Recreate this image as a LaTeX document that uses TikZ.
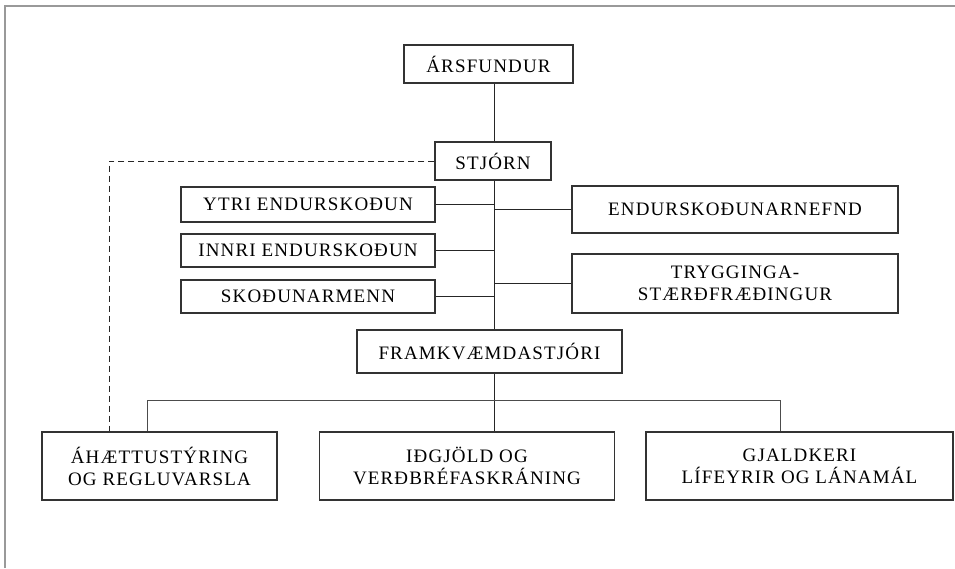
\documentclass[tikz,border=0pt]{standalone}
\usepackage{fontspec}
\setmainfont{Liberation Serif}[LetterSpace=6]
\usepackage{tikz}

\begin{document}
\begin{tikzpicture}[x=1pt,y=-1pt,
                    font=\fontsize{19}{22}\selectfont,
                    kassi/.style={draw=black!80, line width=1.3pt, inner sep=0pt, align=center},
                    lina/.style={draw=black!85, line width=0.9pt}]
                    \useasboundingbox (0,0) rectangle (955,568);
                    % Rammi
                    \draw [black!40, line width=2pt] (5,568) -- (5,6) -- (955,6);

                    % Kassar
                    \node [kassi, minimum width=169, minimum height=38] (ars) at (488.5,64) {ÁRSFUNDUR};
                    \node [kassi, minimum width=116, minimum height=38] (stjorn) at (493,161) {STJÓRN};
                    \node [kassi, minimum width=254, minimum height=35] (ytri) at (308,204.5) {YTRI ENDURSKOÐUN};
                    \node [kassi, minimum width=254, minimum height=33] (innri) at (308,250.5) {INNRI ENDURSKOÐUN};
                    \node [kassi, minimum width=254, minimum height=33] (skodun) at (308,296.5) {SKOÐUNARMENN};
                    \node [kassi, minimum width=326, minimum height=47] (nefnd) at (735,209.5) {ENDURSKOÐUNARNEFND};
                    \node [kassi, minimum width=326, minimum height=59] (trygg) at (735,283.5) {TRYGGINGA-\\STÆRÐFRÆÐINGUR};
                    \node [kassi, minimum width=265, minimum height=43] (framkv) at (489.5,351.5) {FRAMKVÆMDASTJÓRI};
                    \node [kassi, minimum width=235, minimum height=68] (ahaetta) at (159.5,466) {ÁHÆTTUSTÝRING\\OG REGLUVARSLA};
                    \node [kassi, minimum width=295, minimum height=68] (idgjold) at (467,466) {IÐGJÖLD OG\\VERÐBRÉFASKRÁNING};
                    \node [kassi, minimum width=307, minimum height=68] (gjaldkeri) at (799.5,466) {GJALDKERI\\LÍFEYRIR OG LÁNAMÁL};

                    % Línur
                    \coordinate (stofn) at (494,0);
                    \coordinate (vinstri) at (147,400);
                    \coordinate (haegri) at (780,400);
                    \coordinate (strik) at (109,0);
                    \draw [lina] (ars.south -| stofn) -- (stjorn.north -| stofn);
                    \draw [lina] (stjorn.south -| stofn) -- (framkv.north -| stofn);
                    \draw [lina] (ytri.east) -- (ytri.east -| stofn);
                    \draw [lina] (innri.east) -- (innri.east -| stofn);
                    \draw [lina] (skodun.east) -- (skodun.east -| stofn);
                    \draw [lina] (nefnd.west) -- (nefnd.west -| stofn);
                    \draw [lina] (trygg.west) -- (trygg.west -| stofn);
                    \draw [lina] (framkv.south -| stofn) -- (idgjold.north -| stofn);
                    \draw [lina, black!70] (ahaetta.north -| vinstri) |- (haegri) -- (gjaldkeri.north -| haegri);

                    % Brotin lína
                    \draw [lina, dash pattern=on 6pt off 4pt] (stjorn.west) -| (ahaetta.north -| strik);
\end{tikzpicture}
\end{document}
